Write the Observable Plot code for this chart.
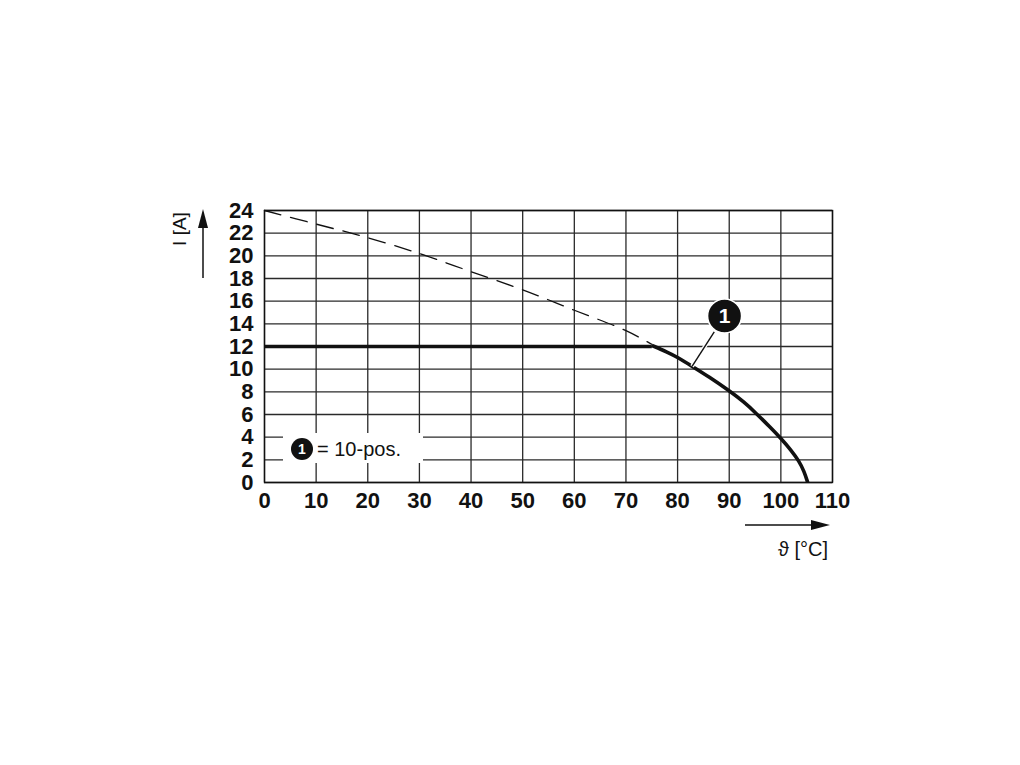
<!DOCTYPE html>
<html>
<head>
<meta charset="utf-8">
<script src="https://cdn.jsdelivr.net/npm/d3@7"></script>
<script src="https://cdn.jsdelivr.net/npm/@observablehq/plot@0.6"></script>
<style>
  html, body { margin: 0; padding: 0; background: #fff; }
  #chart { position: relative; width: 1020px; height: 765px; }
</style>
</head>
<body>
<div id="chart"></div>
<script>
// Temperature ticks (°C) and current ticks (A)
const xTicks = [0, 10, 20, 30, 40, 50, 60, 70, 80, 90, 100, 110];
const yTicks = [0, 2, 4, 6, 8, 10, 12, 14, 16, 18, 20, 22, 24];

// Dashed (unrated) curve
const dashedT = [0, 10, 20, 30, 40, 50, 60, 70, 75];
const dashedI = [24, 22.8, 21.6, 20.2, 18.6, 17.0, 15.2, 13.4, 12.2];

// Solid derating curve "1" (10-pos.): flat part and falling part
const flatT = [0, 75];
const flatI = [12, 12];
const fallT = [75, 78, 80, 83, 86, 90, 93, 95, 98, 100, 102, 103.5, 104.5, 105.2];
const fallI = [12.1, 11.5, 11.05, 10.2, 9.35, 8.1, 7.05, 6.2, 4.85, 3.9, 2.85, 1.9, 1.0, 0];

// Callout "1": marker position and leader line ends
const calloutLabel = "1";
const calloutT = [89.1];
const calloutI = [14.7];
const leaderT = [82.8, 87.1];
const leaderI = [10.25, 13.3];

const legendText = "= 10-pos.";
const yLabel = "I [A]";
const xLabel = "\u03D1 [°C]";

const dashed = dashedT.map((t, i) => ({t, v: dashedI[i]}));
const flat = flatT.map((t, i) => ({t, v: flatI[i]}));
const fall = fallT.map((t, i) => ({t, v: fallI[i]}));
const callout = calloutT.map((t, i) => ({t, v: calloutI[i]}));
const leader = [{x1: leaderT[0], y1: leaderI[0], x2: leaderT[1], y2: leaderI[1]}];

const font = "'Liberation Sans', Arial, Helvetica, sans-serif";

const plot = Plot.plot({
  width: 1020,
  height: 765,
  marginLeft: 264,
  marginRight: 188,
  marginTop: 210,
  marginBottom: 283,
  style: {fontFamily: font, background: "#fff", color: "#111"},
  x: {domain: [0, 110], ticks: xTicks},
  y: {domain: [0, 24], ticks: yTicks},
  marks: [
    Plot.gridX(xTicks, {stroke: "#2a2a2a", strokeOpacity: 1, strokeWidth: 1.3}),
    Plot.gridY(yTicks, {stroke: "#2a2a2a", strokeOpacity: 1, strokeWidth: 1.3}),
    Plot.frame({stroke: "#111", strokeWidth: 1.4}),
    Plot.line(dashed, {x: "t", y: "v", curve: "catmull-rom", stroke: "#111", strokeWidth: 1.3, strokeDasharray: "17,10"}),
    Plot.line(flat, {x: "t", y: "v", stroke: "#111", strokeWidth: 3.6, strokeLinecap: "butt"}),
    Plot.line(fall, {x: "t", y: "v", curve: "basis", stroke: "#111", strokeWidth: 3.6, strokeLinecap: "butt"}),
    Plot.link(leader, {x1: "x1", y1: "y1", x2: "x2", y2: "y2", stroke: "#fff", strokeWidth: 4}),
    Plot.link(leader, {x1: "x1", y1: "y1", x2: "x2", y2: "y2", stroke: "#111", strokeWidth: 1.4}),
    Plot.dot(callout, {x: "t", y: "v", r: 17, fill: "#111", stroke: "#fff", strokeWidth: 1.5}),
    Plot.text(callout, {x: "t", y: "v", text: () => calloutLabel, fill: "#fff", fontSize: 21, fontWeight: "bold"}),
    Plot.axisX(xTicks, {tickSize: 0, tickPadding: 10, fontSize: 22, fontWeight: "bold", fill: "#111", label: null}),
    Plot.axisY(yTicks, {tickSize: 0, tickPadding: 11, fontSize: 22, fontWeight: "bold", fill: "#111", label: null})
  ]
});

document.getElementById("chart").appendChild(plot);

// Decorations: axis arrows, axis titles, legend box
const svg = d3.select(plot);
const g = svg.append("g").attr("font-family", font).attr("fill", "#111");

// Y axis arrow and label
g.append("line").attr("x1", 203).attr("y1", 278).attr("x2", 203).attr("y2", 222)
  .attr("stroke", "#111").attr("stroke-width", 1.5);
g.append("path").attr("d", "M203,209 L198,228 L208,228 Z").attr("fill", "#111");
g.append("text").attr("transform", "translate(186,229) rotate(-90)")
  .attr("text-anchor", "middle").attr("font-size", 19).text(yLabel);

// X axis arrow and label
g.append("line").attr("x1", 745).attr("y1", 525).attr("x2", 815).attr("y2", 525)
  .attr("stroke", "#111").attr("stroke-width", 1.5);
g.append("path").attr("d", "M830,525 L811,520 L811,530 Z").attr("fill", "#111");
g.append("text").attr("x", 828).attr("y", 556).attr("text-anchor", "end")
  .attr("font-size", 20).text(xLabel);

// Legend box
const lg = g.append("g");
lg.append("rect").attr("x", 283).attr("y", 433).attr("width", 140).attr("height", 30).attr("fill", "#fff");
lg.append("circle").attr("cx", 302).attr("cy", 449).attr("r", 11).attr("fill", "#111");
lg.append("text").attr("x", 302).attr("y", 449).attr("dy", "0.36em").attr("text-anchor", "middle")
  .attr("fill", "#fff").attr("font-size", 14).attr("font-weight", "bold").text(calloutLabel);
lg.append("text").attr("x", 317).attr("y", 456).attr("text-anchor", "start")
  .attr("font-size", 20).text(legendText);
</script>
</body>
</html>
